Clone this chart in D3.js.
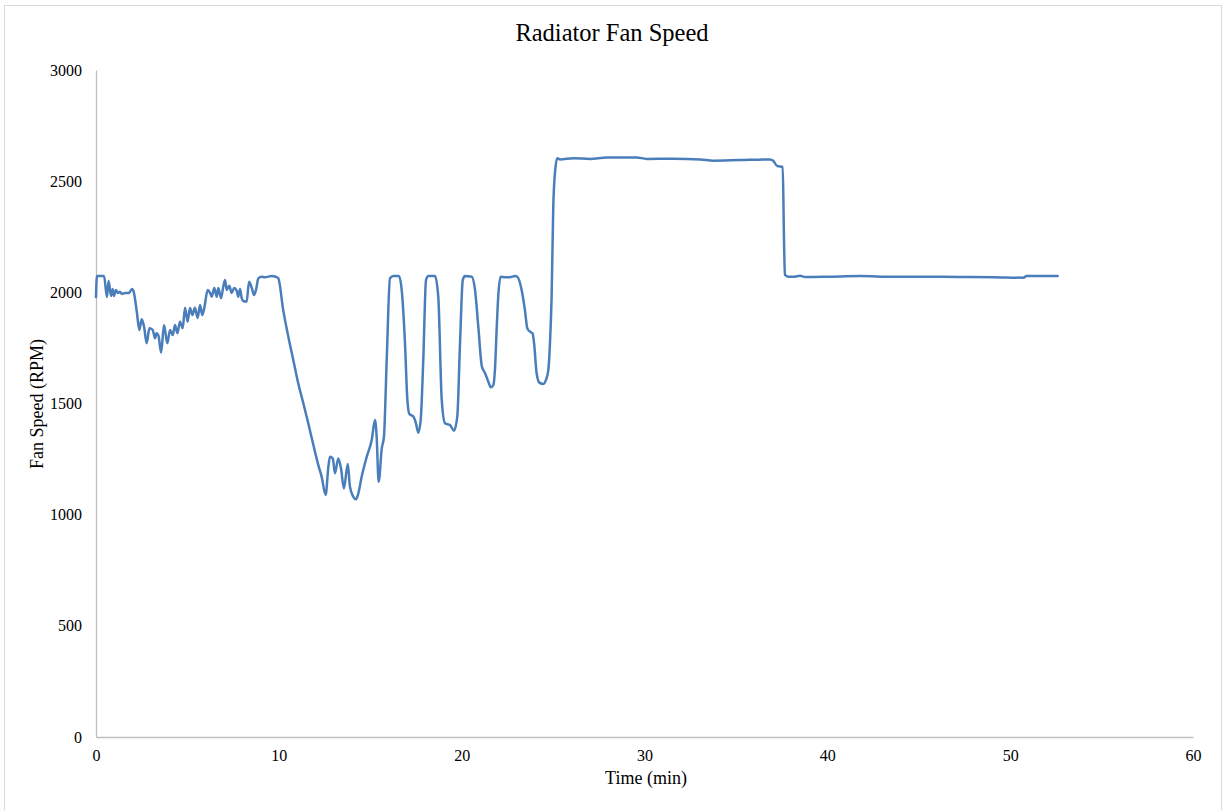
<!DOCTYPE html>
<html>
<head>
<meta charset="utf-8">
<script src="https://cdn.jsdelivr.net/npm/d3@7"></script>
<style>
  html, body { margin: 0; padding: 0; background: #fff; }
  svg { display: block; }
  text { font-family: "Liberation Serif", "Times New Roman", serif; fill: #000; }
</style>
</head>
<body>
<svg id="chart" width="1225" height="810"></svg>
<script>
// Radiator fan speed log: time in minutes, speed in RPM
const timeMin = [
  0, 0.05, 0.44, 0.60, 0.69, 0.82, 0.91, 0.98, 1.09, 1.20, 1.31, 1.42, 1.59, 1.80, 1.97, 2.06,
  2.24, 2.37, 2.50, 2.63, 2.77, 2.92, 3.10, 3.23, 3.31, 3.42, 3.56, 3.72, 3.90, 4.05, 4.20,
  4.32, 4.45, 4.59, 4.74, 4.87, 5.01, 5.14, 5.27, 5.41, 5.56, 5.69, 5.81, 5.92, 6.11, 6.24,
  6.33, 6.47, 6.60, 6.69, 6.84, 6.96, 7.06, 7.15, 7.29, 7.42, 7.56, 7.70, 7.78, 7.88, 7.97,
  8.06, 8.24, 8.37, 8.52, 8.64, 8.75, 8.88, 9.06, 9.24, 9.61, 9.83, 9.97, 10.24, 10.52, 10.79,
  11.06, 11.34, 11.61, 11.89, 12.16, 12.34, 12.56, 12.71, 12.80, 12.95, 13.07, 13.25, 13.40,
  13.56, 13.77, 13.89, 14.07, 14.22, 14.35, 14.53, 14.81, 15.08, 15.26, 15.35, 15.46, 15.63,
  15.75, 15.90, 16.08, 16.26, 16.57, 16.72, 16.90, 17.03, 17.14, 17.36, 17.50, 17.63, 17.76,
  17.90, 18.05, 18.18, 18.54, 18.72, 18.91, 19.09, 19.36, 19.58, 19.76, 19.91, 20.06, 20.18,
  20.55, 20.73, 20.91, 21.10, 21.28, 21.46, 21.59, 21.73, 21.82, 21.92, 22.00, 22.13, 22.37,
  22.64, 22.92, 23.04, 23.28, 23.46, 23.59, 23.74, 23.88, 23.96, 24.10, 24.25, 24.47, 24.61,
  24.74, 24.83, 24.92, 25.01, 25.10, 25.23, 25.38, 26.11, 27.02, 27.93, 28.84, 29.57, 30.12,
  31.57, 33.04, 33.76, 35.22, 36.86, 37.04, 37.26, 37.56, 37.63, 37.68, 37.87, 38.14, 38.51,
  38.78, 39.96, 41.79, 43.61, 45.43, 47.26, 49.08, 50.72, 50.90, 52.60
];
const fanRpm = [
  1979, 2073, 2073, 1979, 2051, 1984, 2015, 1984, 2011, 1997, 2003, 1993, 1997, 1997, 2015, 2003,
  1907, 1831, 1879, 1845, 1771, 1838, 1831, 1793, 1816, 1804, 1729, 1853, 1771, 1831, 1808,
  1853, 1816, 1868, 1838, 1931, 1868, 1929, 1898, 1931, 1885, 1943, 1898, 1929, 2011, 1997,
  1980, 2020, 1980, 2020, 1974, 2025, 2055, 2011, 2030, 1997, 2020, 2006, 1980, 2015, 1974,
  1961, 1958, 2048, 2020, 1988, 2011, 2063, 2070, 2068, 2073, 2070, 2063, 1920, 1800, 1696,
  1591, 1501, 1411, 1313, 1223, 1171, 1089, 1216, 1261, 1253, 1186, 1253, 1208,
  1118, 1228, 1126, 1081, 1069, 1096, 1171, 1261, 1336, 1426, 1351, 1148, 1298,
  1351, 1696, 2063, 2073, 2073, 2011, 1771, 1516, 1453, 1441, 1411, 1369, 1426,
  1696, 2055, 2073, 2073, 1981, 1516, 1411, 1403, 1378, 1441, 1771, 2055, 2073,
  2070, 2011, 1846, 1669, 1636, 1598, 1573, 1583, 1651, 1846, 1981, 2070, 2068,
  2068, 2073, 2070, 2011, 1920, 1838, 1823, 1815, 1771, 1636, 1594, 1588, 1606,
  1651, 1771, 1981, 2385, 2535, 2603, 2598, 2603, 2600, 2607, 2607, 2607, 2600,
  2601, 2598, 2592, 2595, 2598, 2592, 2568, 2565, 2235, 2078, 2070, 2070, 2075,
  2069, 2070, 2073, 2070, 2070, 2069, 2068, 2066, 2073, 2073
];
const xTicks = [0, 10, 20, 30, 40, 50, 60];
const yTicks = [0, 500, 1000, 1500, 2000, 2500, 3000];

const svg = d3.select("#chart");
const plot = { left: 96, right: 1193, top: 70, bottom: 737 };

// Outer chart frame
svg.append("rect")
  .attr("x", 4.5).attr("y", 5.5)
  .attr("width", 1217).attr("height", 810)
  .attr("fill", "#fff").attr("stroke", "#d9d9d9").attr("stroke-width", 1);

const x = d3.scaleLinear().domain([0, 60]).range([plot.left, plot.right]);
const y = d3.scaleLinear().domain([0, 3000]).range([plot.bottom, plot.top]);

// X axis
const xAxis = svg.append("g")
  .attr("transform", `translate(0,${plot.bottom})`)
  .call(d3.axisBottom(x).tickValues(xTicks).tickSize(0).tickPadding(13).tickFormat(d3.format("d")));
xAxis.select(".domain").attr("stroke", "#bfbfbf").attr("stroke-width", 1.3);
xAxis.selectAll("text").style("font-size", "16px").style("font-family", "Liberation Serif, serif");

// Y axis
const yAxis = svg.append("g")
  .attr("transform", `translate(${plot.left},0)`)
  .call(d3.axisLeft(y).tickValues(yTicks).tickSize(0).tickPadding(14).tickFormat(d3.format("d")));
yAxis.select(".domain").attr("stroke", "#bfbfbf").attr("stroke-width", 1.3);
yAxis.selectAll("text").style("font-size", "16px").style("font-family", "Liberation Serif, serif");

// Data line
const data = timeMin.map((t, i) => ({ t, v: fanRpm[i] }));
const line = d3.line()
  .x(d => x(d.t))
  .y(d => y(d.v))
  .curve(d3.curveMonotoneX);
svg.append("path")
  .datum(data)
  .attr("fill", "none")
  .attr("stroke", "#4a7ebb")
  .attr("stroke-width", 2.5)
  .attr("stroke-linejoin", "round")
  .attr("stroke-linecap", "round")
  .attr("d", line);

// Title and axis titles
svg.append("text")
  .attr("x", 612).attr("y", 41)
  .attr("text-anchor", "middle")
  .style("font-size", "24.5px")
  .text("Radiator Fan Speed");

svg.append("text")
  .attr("x", 646).attr("y", 784)
  .attr("text-anchor", "middle")
  .style("font-size", "18px")
  .text("Time (min)");

svg.append("text")
  .attr("transform", `translate(43,404) rotate(-90)`)
  .attr("text-anchor", "middle")
  .style("font-size", "18px")
  .text("Fan Speed (RPM)");
</script>
</body>
</html>
